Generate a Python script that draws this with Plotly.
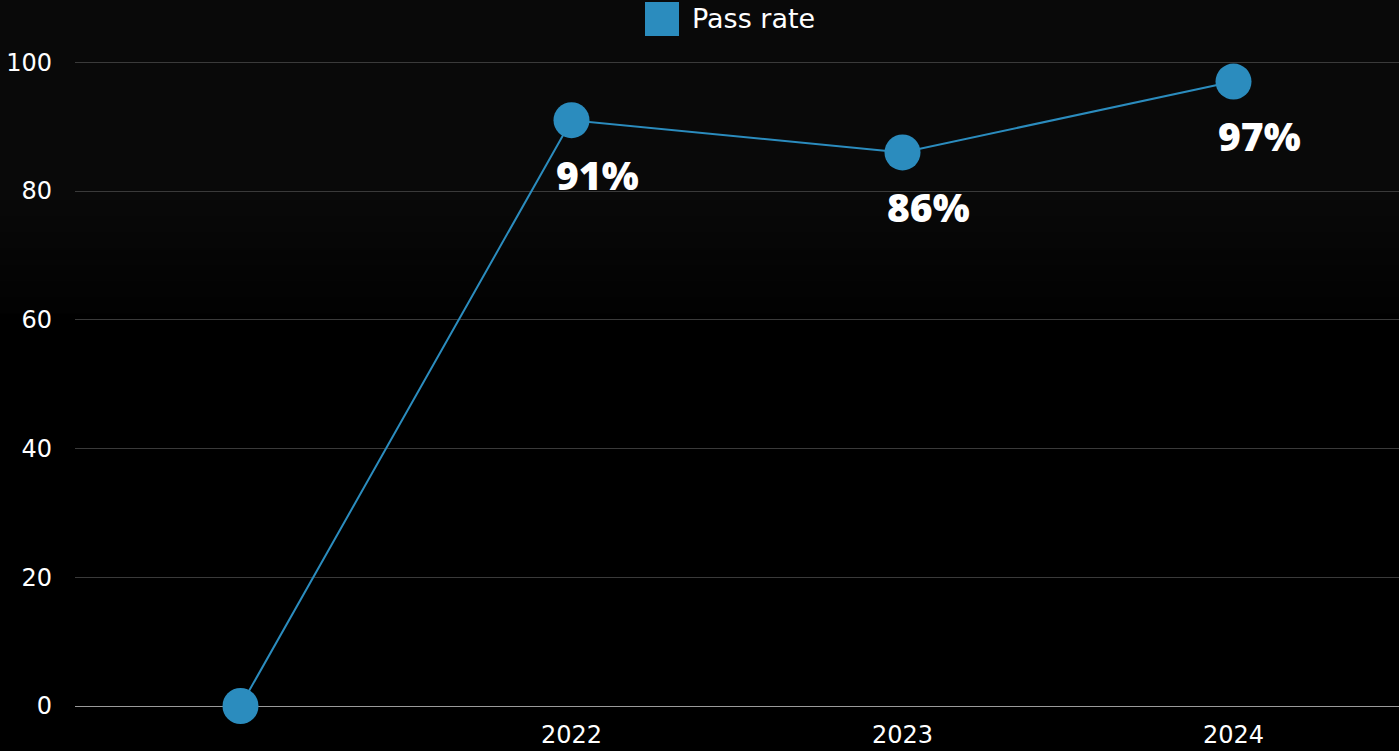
import plotly.graph_objects as go

categories = [" ", "2022", "2023", "2024"]
pass_rate = [0, 91, 86, 97]
labels = ["", "91%", "86%", "97%"]
y_ticks = [0, 20, 40, 60, 80, 100]

BLUE = "#2b8cbe"
FONT = "DejaVu Sans"

fig = go.Figure()
fig.add_trace(go.Scatter(
    x=categories, y=pass_rate, mode="lines+markers",
    line=dict(color=BLUE, width=2),
    marker=dict(color=BLUE, size=36),
    showlegend=False, cliponaxis=False, name="Pass rate",
))

for i, (v, t) in enumerate(zip(pass_rate, labels)):
    if t:
        fig.add_annotation(x=i, y=v, text=t, showarrow=False,
                           xshift=26, yshift=-54,
                           font=dict(family="Open Sans", size=39, color="white", weight=800))

# subtle textured top band of the background (soft fade toward the bottom)
bands = 8
for k in range(bands):
    y_bot = 200 + k * (130 / bands)
    fig.add_shape(type="rect", xref="paper", yref="paper", layer="below",
                  x0=-75 / 1324, x1=1.0,
                  y0=1 + (61 - y_bot) / 645, y1=1 + 61 / 645,
                  fillcolor="rgba(255,255,255,0.006)", line=dict(width=0))

# manual legend
fig.add_shape(type="rect", xref="paper", yref="paper",
              x0=(645 - 75) / 1324, x1=(679 - 75) / 1324,
              y0=1 + (61 - 36) / 645, y1=1 + (61 - 2) / 645,
              fillcolor=BLUE, line=dict(width=0))
fig.add_annotation(xref="paper", yref="paper",
                   x=(690 - 75) / 1324, y=1 + (61 - 19) / 645,
                   xanchor="left", yanchor="middle", showarrow=False,
                   text="Pass rate", font=dict(family=FONT, size=27, color="white"))

fig.update_layout(
    width=1399, height=751,
    margin=dict(l=75, r=0, t=61, b=45),
    paper_bgcolor="#000000", plot_bgcolor="rgba(0,0,0,0)",
    font=dict(family=FONT, color="white", size=24),
    xaxis=dict(type="category", range=[-0.5, 3.5], showgrid=False,
               showline=False, ticks="", tickfont=dict(size=24),
               ticklabelstandoff=12),
    yaxis=dict(range=[0, 100.2], tickvals=y_ticks, gridcolor="#3a3a3a",
               gridwidth=1, zeroline=True, zerolinecolor="#9a9a9a",
               zerolinewidth=1, showline=False, ticks="",
               tickfont=dict(size=24), ticklabelstandoff=22),
)

fig.write_html("out.html", config={"displayModeBar": False})
with open("out.html", encoding="utf-8") as f:
    html = f.read()
html = html.replace("<body>", '<body style="margin:0;background:#000">', 1)
with open("out.html", "w", encoding="utf-8") as f:
    f.write(html)
